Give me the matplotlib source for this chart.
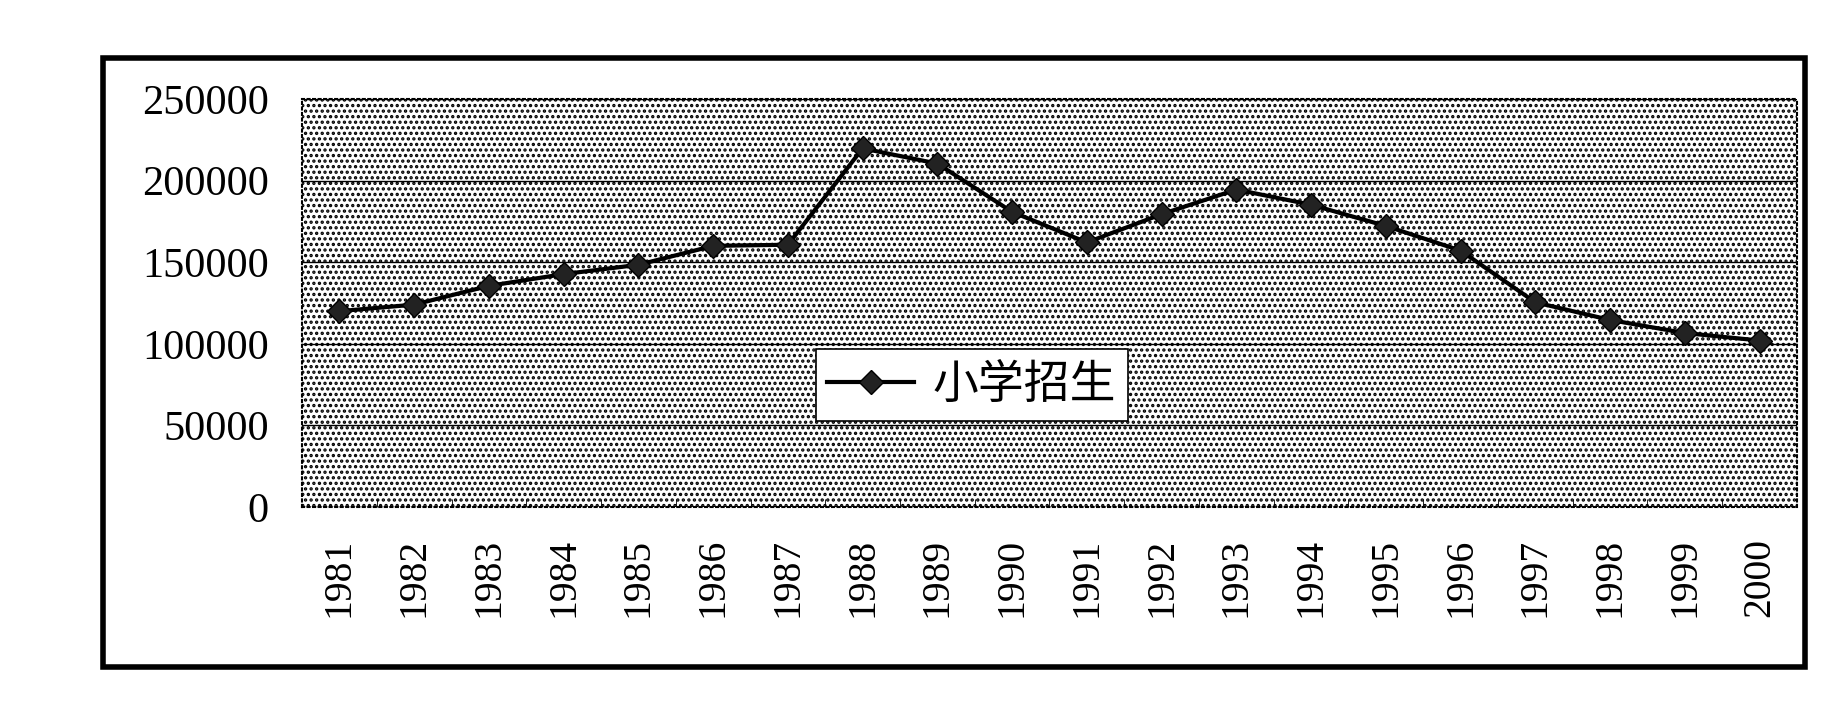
import matplotlib
matplotlib.use("Agg")
from matplotlib import pyplot as plt
from matplotlib.patches import Rectangle
from matplotlib.ticker import FixedLocator

plt.rcParams['font.family'] = ['Noto Sans CJK SC', 'DejaVu Sans']
plt.rcParams['hatch.linewidth'] = 1.6
plt.rcParams['hatch.color'] = 'black'

years = ['1981', '1982', '1983', '1984', '1985', '1986', '1987', '1988', '1989', '1990',
         '1991', '1992', '1993', '1994', '1995', '1996', '1997', '1998', '1999', '2000']
enrolment = [120000, 124000, 135500, 142700, 148400, 160000, 160700, 219700, 210400, 180800,
             162100, 179400, 194500, 185200, 172200, 157100, 125400, 114600, 106600, 102000]
series_name = '小学招生'
y_ticks = [0, 50000, 100000, 150000, 200000, 250000]

fig = plt.figure(figsize=(18.43, 7.09), dpi=100)
ax = fig.add_axes([0.1639, 0.2849, 0.8111, 0.5755])

# dotted background of the plot area
ax.add_patch(Rectangle((0, 0), 1, 1, transform=ax.transAxes, facecolor='white',
                       edgecolor='black', hatch='...', linewidth=0, zorder=0.1))

x = list(range(len(years)))
ax.plot(x, enrolment, color='black', linewidth=3, marker='D', markersize=12,
        markerfacecolor='#222222', markeredgecolor='black', label=series_name, zorder=3)

ax.set_xlim(-0.5, len(years) - 0.5)
ax.set_ylim(0, 250000)
ax.set_yticks(y_ticks)
ax.set_yticklabels([str(v) for v in y_ticks])
ax.set_xticks(x)
ax.set_xticklabels(years, rotation=90)
ax.xaxis.set_minor_locator(FixedLocator([i + 0.5 for i in range(len(years) - 1)]))

serif = 'Liberation Serif'
for lab in ax.get_yticklabels():
    lab.set_fontfamily(serif)
    lab.set_fontsize(30.5)
for lab in ax.get_xticklabels():
    lab.set_fontfamily(serif)
    lab.set_fontsize(28.5)

ax.tick_params(axis='x', which='major', length=0, pad=22)
ax.tick_params(axis='x', which='minor', length=6, direction='in', color='black')
ax.tick_params(axis='y', length=0, pad=24)

ax.grid(axis='y', color='black', linewidth=1.0)
ax.set_axisbelow(True)
for s in ax.spines.values():
    s.set_linestyle(':')
    s.set_linewidth(1.5)
    s.set_color('black')

leg = ax.legend(loc='center', bbox_to_anchor=(0.448, 0.299), fontsize=33,
                frameon=True, fancybox=False, shadow=False, handlelength=1.9,
                handletextpad=0.4, borderpad=0.25, borderaxespad=0)
leg.get_frame().set_edgecolor('black')
leg.get_frame().set_linewidth(1.2)
leg.get_frame().set_facecolor('white')
leg.get_frame().set_alpha(1)

# thick outer chart border
fig.patches.append(Rectangle((103 / 1843, 1 - 667 / 709), (1805 - 103) / 1843, (667 - 58) / 709,
                             transform=fig.transFigure, fill=False, edgecolor='black',
                             linewidth=4, figure=fig))

fig.savefig('out.png', dpi=100)
